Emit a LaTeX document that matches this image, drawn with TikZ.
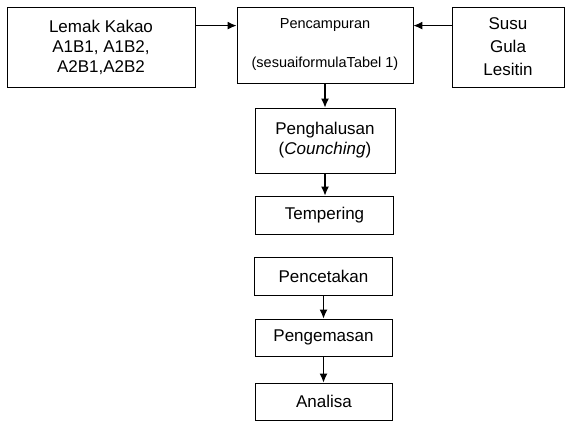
\documentclass[tikz,border=0pt]{standalone}
\usepackage{fontspec}
\setmainfont{Liberation Sans}
\usetikzlibrary{arrows.meta}

\begin{document}
\begin{tikzpicture}[x=1pt,y=1pt,
    box/.style={draw, line width=0.8pt, align=center, inner sep=0pt,
      font=\fontsize{17}{20}\selectfont},
    flow/.style={-{Latex[length=9pt,width=8pt]}, line width=1.3pt}]
  \useasboundingbox (0,0) rectangle (565,-421);

  % Draw the ingredient boxes
  \node[box, minimum width=188pt, minimum height=80pt] (lemak) at (101,-47)
    {Lemak Kakao\\A1B1, A1B2,\\A2B1,A2B2};
  \node[box, minimum width=176pt, minimum height=76pt,
    font=\fontsize{14.5}{17}\selectfont] (mix) at (325,-45)
    {Pencampuran\\[22pt](sesuaiformulaTabel 1)};
  \node[box, minimum width=112pt, minimum height=80pt] (susu) at (508,-47)
    {Susu\\[3pt]Gula\\[3pt]Lesitin};

  % Draw the process steps
  \node[box, minimum width=140pt, minimum height=65pt] (halus) at (325,-140.5)
    {Penghalusan\\(\textit{Counching})};
  \node[box, minimum width=138pt, minimum height=38pt] (temper) at (324.5,-215) {Tempering};
  \node[box, minimum width=138pt, minimum height=38pt] (cetak) at (323.5,-276) {Pencetakan};
  \node[box, minimum width=137pt, minimum height=37pt] (kemas) at (323.5,-337.5) {Pengemasan};
  \node[box, minimum width=137pt, minimum height=37pt] (analisa) at (324,-401.5) {Analisa};

  % Draw the arrows
  \draw[flow] ([yshift=-19pt]lemak.north east) -- ([yshift=-19pt]mix.north west);
  \draw[flow] ([yshift=-19pt]susu.north west) -- ([yshift=-19pt]mix.north east);
  \draw[flow] (mix.south) -- (mix.south |- halus.north);
  \draw[flow] (halus.south) -- (halus.south |- temper.north);
  \draw[flow] (cetak.south) -- (cetak.south |- kemas.north);
  \draw[flow] (kemas.south) -- (kemas.south |- analisa.north);
\end{tikzpicture}
\end{document}
